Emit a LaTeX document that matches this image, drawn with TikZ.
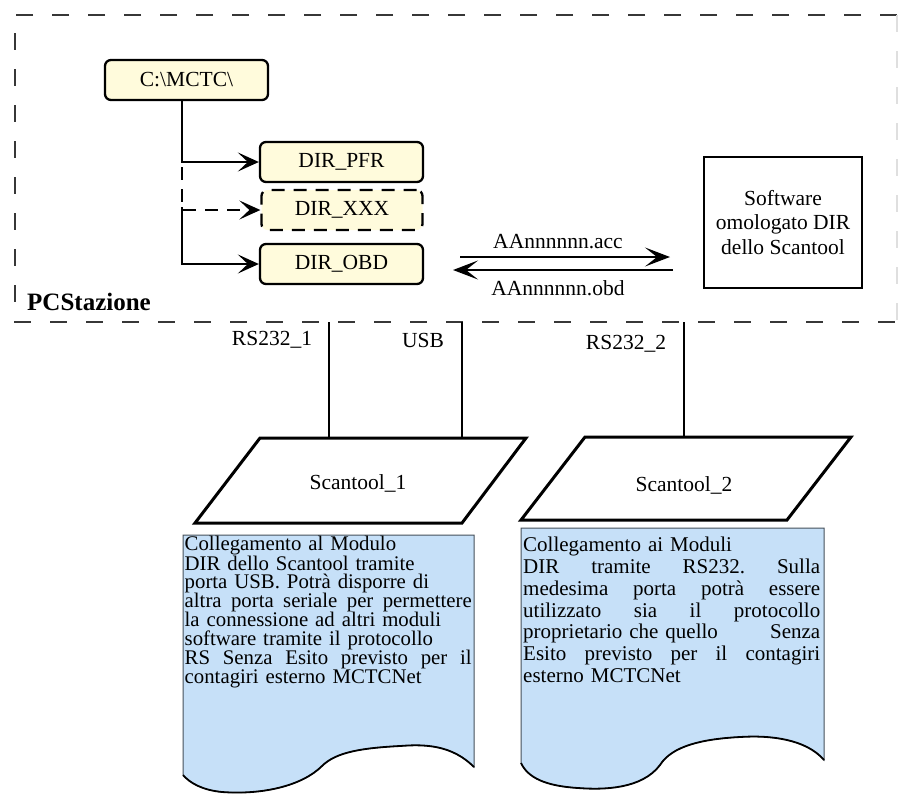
\documentclass[tikz,border=0pt]{standalone}
\usepackage{fontspec}
\setmainfont{Liberation Serif}
\usetikzlibrary{arrows.meta}
\definecolor{boxyellow}{RGB}{255,251,220}
\definecolor{noteblue}{RGB}{198,224,248}
\definecolor{framegray}{RGB}{55,55,55}
\definecolor{noteedge}{RGB}{70,80,90}
\tikzset{
  dirbox/.style={draw, line width=2.3pt, rounded corners=6pt, fill=boxyellow,
    minimum width=163pt, minimum height=40pt, inner sep=0pt,
    font=\fontsize{21.5}{24}\selectfont},
  conn/.style={line width=2.3pt, -{Stealth[length=21pt,width=19pt,inset=10pt]}},
  flowarrow/.style={line width=2.4pt, -{Stealth[length=25pt,width=19pt,inset=12pt]}},
  framedash/.style={draw=framegray, line width=1.8pt, dash pattern=on 17pt off 19pt},
  plain/.style={font=\fontsize{21.5}{24.5}\selectfont, inner sep=0pt},
  port/.style={line width=1.8pt},
  para/.style={draw, line width=3pt, fill=white, line join=miter},
  notefill/.style={fill=noteblue, draw=noteedge, line width=1pt},
  wave/.style={draw=black, line width=1.8pt},
  notetext/.style={anchor=north west, inner sep=0pt, align=left}
}
\newcommand{\jline}[2]{\leavevmode\hbox to #1{#2}}
\begin{document}
\begin{tikzpicture}[x=1pt,y=-1pt]
\useasboundingbox[fill=white] (0,0) rectangle (899,793);

% PC frame
\draw[framedash] (897,15) -- (15,15) -- (15,322) -- (897,322);
\draw[draw=gray!25, line width=1.2pt, dash pattern=on 17pt off 19pt] (897,15) -- (897,322);
\node[font=\bfseries\fontsize{25}{25}\selectfont, anchor=west, inner sep=0pt] (pclbl) at (27,302) {PCStazione};

% directory tree
\node[dirbox] (c) at (186.5,80) {C:\textbackslash MCTC\textbackslash};
\node[dirbox] (pfr) at (341.5,162) {DIR\_PFR};
\node[dirbox, minimum width=161pt, dash pattern=on 13pt off 9pt] (xxx) at (342,210) {DIR\_XXX};
\node[dirbox] (obd) at (341.5,264) {DIR\_OBD};

\coordinate (trunk) at (182,100);
\coordinate (split) at (182,207);
\draw[conn, dash pattern=on 13pt off 9pt] (c.south -| trunk) |- (xxx.west);
\draw[conn] (c.south -| trunk) |- (pfr.west);
\draw[conn] (split) |- (obd.west);

% software box
\node[draw, line width=2.8pt, fill=white, minimum width=158pt, minimum height=131pt,
  align=center, font=\fontsize{21.5}{24.5}\selectfont] (sw) at (783,222.5)
  {Software\\omologato DIR\\dello Scantool};

% file exchange arrows
\coordinate (a1) at (460,257);
\coordinate (a2) at (670,257);
\coordinate (b1) at (673,270);
\coordinate (b2) at (453,270);
\draw[flowarrow] (a1) -- (a2);
\draw[flowarrow] (b1) -- (b2);
\node[plain] (lacc) at (558,242) {AAnnnnnn.acc};
\node[plain] (lobd) at (558,288) {AAnnnnnn.obd};

% port labels
\node[plain] (l1) at (272,340) {RS232\_1};
\node[plain] (l2) at (423,340) {USB};
\node[plain] (l3) at (626,344) {RS232\_2};

% scantools
\draw[para] (260,438) -- (526,438) -- (462,523) -- (195,523) -- cycle;
\node[plain] (s1) at (358,483) {Scantool\_1};
\draw[para] (585,437) -- (851,437) -- (787,520) -- (521,520) -- cycle;
\node[plain] (s2) at (684,485) {Scantool\_2};

% port lines
\coordinate (p1t) at (329,322); \coordinate (p1b) at (329,438);
\coordinate (p2t) at (462,322); \coordinate (p2b) at (462,438);
\coordinate (p3t) at (684,322); \coordinate (p3b) at (684,437);
\draw[port] (p1t) -- (p1b);
\draw[port] (p2t) -- (p2b);
\draw[port] (p3t) -- (p3b);

% note 1
\path[notefill] (183,535) -- (474,535) -- (474,767)
  .. controls (452,745) and (425,744) .. (400,746)
  .. controls (362,748) and (336,752) .. (322,766)
  .. controls (302,786) and (262,795) .. (222,792)
  .. controls (202,790) and (190,783) .. (183,775) -- cycle;
\draw[wave] (474,767)
  .. controls (452,745) and (425,744) .. (400,746)
  .. controls (362,748) and (336,752) .. (322,766)
  .. controls (302,786) and (262,795) .. (222,792)
  .. controls (202,790) and (190,783) .. (183,775);
\node[notetext, text width=288pt, font=\fontsize{20.8}{18.9}\selectfont] (n1) at (184.5,535.5) {%
Collegamento al Modulo\\
DIR dello Scantool tramite\\
porta USB. Potrà disporre di\\
\jline{287pt}{altra\hfill porta\hfill seriale\hfill per\hfill permettere}\\
la connessione ad altri moduli\\
software tramite il protocollo\\
\jline{287pt}{RS\hfill Senza\hfill Esito\hfill previsto\hfill per\hfill il}\\
contagiri esterno MCTCNet};

% note 2
\path[notefill] (521,528) -- (824,528) -- (824,760)
  .. controls (806,739) and (770,735) .. (740,737)
  .. controls (702,739) and (672,746) .. (660,765)
  .. controls (642,789) and (604,790) .. (578,788)
  .. controls (546,786) and (528,778) .. (521,763) -- cycle;
\draw[wave] (824,760)
  .. controls (806,739) and (770,735) .. (740,737)
  .. controls (702,739) and (672,746) .. (660,765)
  .. controls (642,789) and (604,790) .. (578,788)
  .. controls (546,786) and (528,778) .. (521,763);
\node[notetext, text width=297pt, font=\fontsize{21}{21.8}\selectfont] (n2) at (523,537) {%
Collegamento ai Moduli\\
\jline{297pt}{DIR\hfill tramite\hfill RS232.\hfill Sulla}\\
\jline{297pt}{medesima\hfill porta\hfill potrà\hfill essere}\\
\jline{297pt}{utilizzato\hfill sia\hfill il\hfill protocollo}\\
\jline{297pt}{proprietario\hspace{7pt plus 0.1fil}che quello\hfill Senza}\\
\jline{297pt}{Esito\hfill previsto\hfill per\hfill il\hfill contagiri}\\
esterno MCTCNet};
\end{tikzpicture}
\end{document}
